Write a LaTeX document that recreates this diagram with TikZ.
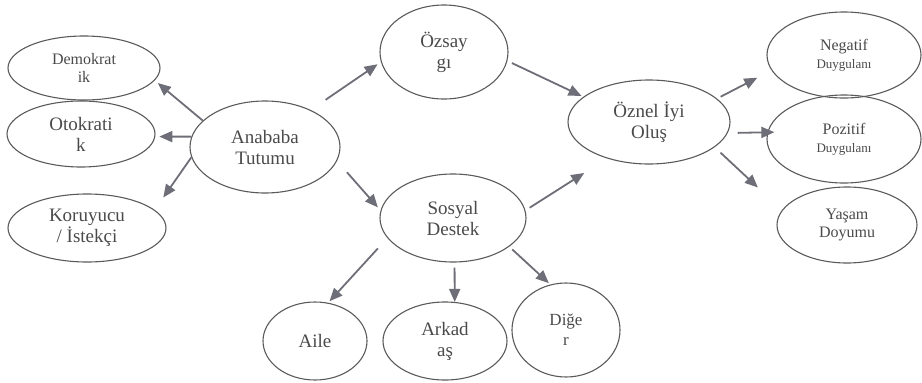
\documentclass[tikz,border=0pt]{standalone}
\usepackage{fontspec}
\setmainfont{Liberation Serif}
\usepackage{tikz}
\usetikzlibrary{arrows.meta,shapes.geometric,calc}

\definecolor{edgegray}{HTML}{5A5A5A}
\definecolor{arrowgray}{HTML}{6E6E78}
\definecolor{textgray}{HTML}{4A4A4A}

\newcommand{\duyg}{\fontsize{13}{16}\selectfont}

\tikzset{
  oval/.style={ellipse, draw=edgegray, line width=1.1pt, inner sep=0pt,
    align=center, text=textgray, font=\fontsize{19}{21}\selectfont},
  smalltext/.style={font=\fontsize{16}{18}\selectfont},
  arr/.style={draw=arrowgray, line width=1.8pt, -{Triangle[length=13pt,width=11pt]}}
}

\begin{document}
\begin{tikzpicture}[x=1pt,y=-1pt]
    \useasboundingbox (0,0) rectangle (922,383);
    % left side
    \node[oval, smalltext, minimum width=152pt, minimum height=64pt] (demokratik) at (84,68) {Demokrat\\ik};
    \node[oval, minimum width=148pt, minimum height=66pt] (otokratik) at (81,134) {Otokrati\\k};
    \node[oval, minimum width=158pt, minimum height=68pt] (koruyucu) at (87,228) {Koruyucu\\/ İstekçi};
    \node[oval, minimum width=150pt, minimum height=92pt] (anababa) at (265,147) {Anababa\\Tutumu};
    % middle
    \node[oval, minimum width=128pt, minimum height=94pt] (ozsaygi) at (444,52) {Özsay\\gı};
    \node[oval, minimum width=146pt, minimum height=88pt] (sosyal) at (453,218) {Sosyal\\Destek};
    \node[oval, minimum width=104pt, minimum height=78pt] (aile) at (315,341) {Aile};
    \node[oval, minimum width=124pt, minimum height=78pt] (arkadas) at (445,341) {Arkad\\aş};
    \node[oval, font=\fontsize{17}{20}\selectfont, minimum width=108pt, minimum height=94pt] (diger) at (566,330) {Diğe\\r};
    \node[oval, minimum width=162pt, minimum height=84pt] (oznel) at (649,122) {Öznel İyi\\Oluş};
    % right side
    \node[oval, smalltext, minimum width=154pt, minimum height=86pt] (negatif) at (844,55) {Negatif\\{\duyg Duygulanı}};
    \node[oval, smalltext, minimum width=154pt, minimum height=88pt] (pozitif) at (844,139) {Pozitif\\{\duyg Duygulanı}};
    \node[oval, smalltext, minimum width=140pt, minimum height=76pt] (yasam) at (847,225) {Yaşam\\Doyumu};

    \foreach \a/\b/\s/\e in {anababa.157/demokratik.-10/0/4, anababa.172/otokratik.-2/0/4,
        anababa.188/koruyucu.15/0/15, anababa.39/ozsaygi.189/18/4,
        anababa.-11/sosyal.174/15/4, ozsaygi.-8/oznel.159/5/2,
        sosyal.6/oznel.221/5/27, sosyal.197/aile.71/14/2,
        sosyal.-88/arkadas.76/5/0, sosyal.-27/diger.109/4/2,
        oznel.19/negatif.192/4/16, oznel.-8/pozitif.175/10/-7,
        oznel.-21/yasam.167/8/33}{
        \draw[arr, shorten <=\s pt, shorten >=\e pt] (\a) -- (\b);
    }
\end{tikzpicture}
\end{document}
